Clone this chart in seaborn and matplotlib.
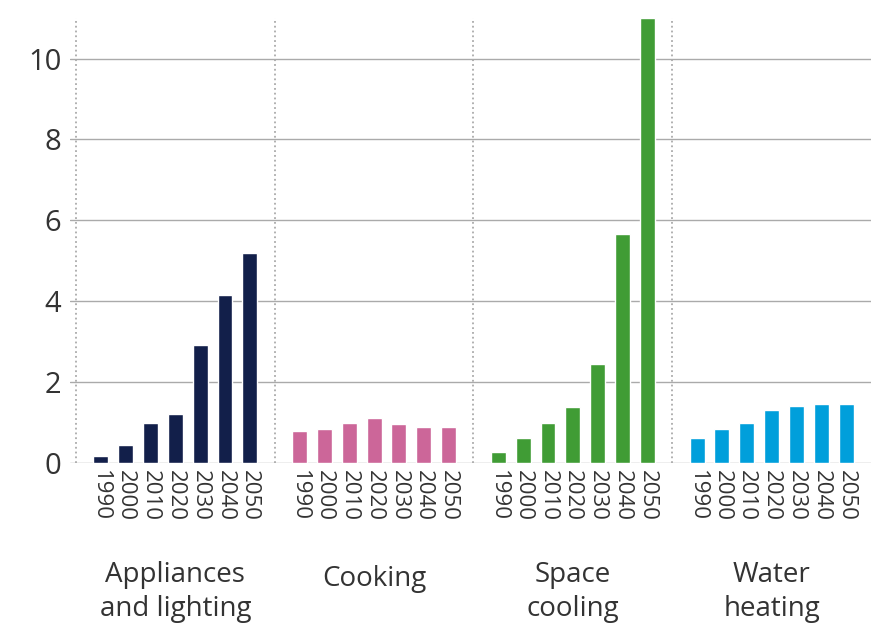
import seaborn as sns
import matplotlib.pyplot as plt
import pandas as pd

# Dados
years = ["1990", "2000", "2010", "2020", "2030", "2040", "2050"]
categories = ["Appliances\nand lighting", "Cooking", "Space\ncooling", "Water\nheating"]
appliances = [0.17, 0.45, 1.0, 1.22, 2.92, 4.16, 5.2]
cooking = [0.79, 0.85, 1.0, 1.12, 0.96, 0.90, 0.89]
space_cooling = [0.26, 0.63, 0.99, 1.38, 2.45, 5.66, 11.0]
water_heating = [0.63, 0.84, 1.0, 1.32, 1.40, 1.47, 1.47]
colors = ["#121f4a", "#cc6699", "#409c35", "#009fdb"]

series = [appliances, cooking, space_cooling, water_heating]
rows = []
for g, (cat, vals) in enumerate(zip(categories, series)):
    for i, (yr, v) in enumerate(zip(years, vals)):
        rows.append({"pos": 8 * g + i + 1, "ano": yr, "categoria": cat, "valor": v})
df = pd.DataFrame(rows)

sns.set_style("white")
plt.rcParams["font.family"] = ["Open Sans", "DejaVu Sans"]

fig = plt.figure(figsize=(8.71, 6.24), dpi=100)
ax = fig.add_axes([0.080, 0.258, 0.92, 0.713])

ax.set_axisbelow(True)
ax.yaxis.grid(True, color="#aaaaaa", linewidth=1)
ax.set_yticks([0, 2, 4, 6, 8, 10])

sns.barplot(data=df, x="pos", y="valor", hue="categoria", palette=colors,
            native_scale=True, dodge=False, width=0.6, legend=False, ax=ax,
            saturation=1)

for g in range(4):
    ax.axvline(8 * g, color="#aaaaaa", linestyle=":", linewidth=1.3, zorder=0)

ax.set_xlim(-0.25, 32)
ax.set_ylim(0, 11)
ax.set_xticks(df["pos"])
ax.set_xticklabels(df["ano"], rotation=-90, fontsize=16, color="#333333")
ax.tick_params(axis="y", labelsize=21, colors="#333333", length=0, pad=6)
ax.tick_params(axis="x", length=0, pad=5)
ax.set_xlabel("")
ax.set_ylabel("")
sns.despine(left=True, bottom=True)

for g, cat in enumerate(categories):
    ax.text(8 * g + 4, -0.22 if "\n" in cat else -0.23, cat,
            transform=ax.get_xaxis_transform(), ha="center", va="top",
            fontsize=20, color="#333333", linespacing=1.3)

plt.savefig("out.png", dpi=100)
